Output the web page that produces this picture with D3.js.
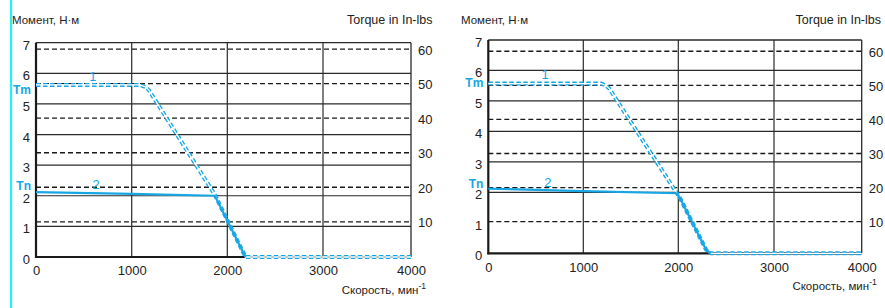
<!DOCTYPE html>
<html><head><meta charset="utf-8">
<script src="https://cdn.jsdelivr.net/npm/d3@7"></script>
<style>
body{margin:0;background:#fff}
text{font-family:"Liberation Sans",Arial,Helvetica,sans-serif}
</style>
</head><body>
<svg id="c" width="885" height="308"></svg>
<script>
// ---------- data ----------
const speedTicks  = [0, 1000, 2000, 3000, 4000];
const torqueTicks = [0, 1, 2, 3, 4, 5, 6, 7];
const inlbTicks   = [10, 20, 30, 40, 50, 60];

// chart A (left)
const speedA1  = [0, 1080, 1150, 1180, 1870, 2190, 4000];
const torqueA1 = [5.62, 5.62, 5.55, 5.45, 2.03, 0, 0];
const speedA2  = [0, 1000, 1870, 2190];
const torqueA2 = [2.12, 2.06, 2.0, 0];

// chart B (right)
const speedB1  = [0, 1190, 1240, 1270, 1985, 2020, 2290, 2340, 4000];
const torqueB1 = [5.57, 5.57, 5.5, 5.42, 1.97, 1.8, 0.12, 0, 0];
const speedB2  = [0, 1000, 1985, 2020, 2290, 2340];
const torqueB2 = [2.12, 2.04, 1.97, 1.8, 0.12, 0];

const yTitle = "Момент, Н·м";
const y2Title = "Torque in In-lbs";
const xTitle = "Скорость, мин";
const xTitleSup = "-1";
const curveLabels = ["1", "2"];
const levelLabels = ["Tm", "Tn"];

// ---------- layout ----------
const charts = [
  { xr: [36, 131.7, 227.3, 323, 411], yr: [257, 42.7],
    inlbNm: [1.15, 6.79], solid: [1, 2, 3, 4, 5, 6],
    s1: speedA1, t1: torqueA1, s2: speedA2, t2: torqueA2,
    lab1: [595, 5.9], lab2: [628, 2.4], tm: 5.5, tn: 2.35,
    titleX: 12, y2TitleX: 432.5 },
  { xr: [488.3, 583.3, 678.3, 774, 861.7], yr: [253.3, 40],
    inlbNm: [1.04, 6.63], solid: [2, 3, 4, 5, 6],
    s1: speedB1, t1: torqueB1, s2: speedB2, t2: torqueB2,
    lab1: [597, 5.9], lab2: [627, 2.34], tm: 5.62, tn: 2.31,
    titleX: 461, y2TitleX: 881 }
];

const BLUE = "#16a6e4";
const svg = d3.select("#c");

// cyan margin line
svg.append("line").attr("x1", 11).attr("x2", 11).attr("y1", 0).attr("y2", 308)
  .attr("stroke", "#1ef2ff").attr("stroke-width", 2.2);

charts.forEach(c => {
  const x = d3.scaleLinear().domain(speedTicks).range(c.xr);
  const y = d3.scaleLinear().domain([0, 7]).range(c.yr);
  const y2 = d3.scaleLinear().domain([10, 60]).range([y(c.inlbNm[0]), y(c.inlbNm[1])]);
  const x0 = x(0), x1 = x(4000), yb = y(0), yt = y(7);
  const g = svg.append("g");

  // solid horizontal grid
  g.selectAll(".hs").data(c.solid).enter().append("line")
    .attr("x1", x0).attr("x2", x1).attr("y1", d => y(d)).attr("y2", d => y(d))
    .attr("stroke", "#2a2a2a").attr("stroke-width", 1.2);
  // dashed in-lbs grid
  g.selectAll(".hd").data(inlbTicks).enter().append("line")
    .attr("x1", x0).attr("x2", x1).attr("y1", d => y2(d)).attr("y2", d => y2(d))
    .attr("stroke", "#1a1a1a").attr("stroke-width", 1.3).attr("stroke-dasharray", "5,3");
  // vertical grid
  g.selectAll(".vs").data(speedTicks.slice(1, 4)).enter().append("line")
    .attr("x1", d => x(d)).attr("x2", d => x(d)).attr("y1", yt).attr("y2", yb)
    .attr("stroke", "#2a2a2a").attr("stroke-width", 1.2);
  // frame
  g.append("line").attr("x1", x0).attr("x2", x1).attr("y1", yt).attr("y2", yt)
    .attr("stroke", "#2a2a2a").attr("stroke-width", 1.3);
  g.append("line").attr("x1", x1).attr("x2", x1).attr("y1", yt).attr("y2", yb)
    .attr("stroke", "#2a2a2a").attr("stroke-width", 1.3);
  g.append("line").attr("x1", x0).attr("x2", x0).attr("y1", yt).attr("y2", yb + 1)
    .attr("stroke", "#1a1a1a").attr("stroke-width", 2.2);
  g.append("line").attr("x1", x0 - 1).attr("x2", x1).attr("y1", yb).attr("y2", yb)
    .attr("stroke", "#1a1a1a").attr("stroke-width", 2.2);

  // axes (labels only)
  const ax = g.append("g").attr("transform", `translate(0,${yb})`)
    .call(d3.axisBottom(x).tickValues(speedTicks).tickSize(0).tickPadding(9).tickFormat(d3.format("d")));
  const ay = g.append("g").attr("transform", `translate(${x0},0)`)
    .call(d3.axisLeft(y).tickValues(torqueTicks).tickSize(0).tickPadding(6).tickFormat(d3.format("d")));
  const ay2 = g.append("g").attr("transform", `translate(${x1},0)`)
    .call(d3.axisRight(y2).tickValues(inlbTicks).tickSize(0).tickPadding(7).tickFormat(d3.format("d")));
  [ax, ay, ay2].forEach(a => {
    a.select(".domain").remove();
    a.selectAll("text").attr("font-size", 13).attr("fill", "#222")
      .attr("font-family", '"Liberation Sans",Arial,sans-serif');
  });
  ay.selectAll("text").attr("dy", "0.5em");
  ay2.selectAll("text").attr("dy", "0.38em");

  // curves
  const line = d3.line().x(d => x(d[0])).y(d => y(d[1]));
  const p1 = c.s1.map((s, i) => [s, c.t1[i]]);
  const p2 = c.s2.map((s, i) => [s, c.t2[i]]);
  g.append("path").attr("d", line(p1)).attr("fill", "none")
    .attr("stroke", BLUE).attr("stroke-width", 4).attr("stroke-dasharray", "4.5,2.5");
  g.append("path").attr("d", line(p1)).attr("fill", "none")
    .attr("stroke", "#fff").attr("stroke-width", 1.3);
  g.append("path").attr("d", line(p2)).attr("fill", "none")
    .attr("stroke", BLUE).attr("stroke-width", 2.2).attr("stroke-linejoin", "round");

  // curve labels
  g.append("text").attr("x", x(c.lab1[0])).attr("y", y(c.lab1[1]) + 5)
    .attr("text-anchor", "middle").attr("font-size", 13).attr("fill", BLUE).text(curveLabels[0]);
  g.append("text").attr("x", x(c.lab2[0])).attr("y", y(c.lab2[1]) + 5)
    .attr("text-anchor", "middle").attr("font-size", 13).attr("fill", BLUE).text(curveLabels[1]);

  // Tm / Tn
  g.append("text").attr("x", x0 - 5).attr("y", y(c.tm) + 5)
    .attr("text-anchor", "end").attr("font-size", 12).attr("font-weight", "bold")
    .attr("fill", BLUE).text(levelLabels[0]);
  g.append("text").attr("x", x0 - 5).attr("y", y(c.tn) + 5)
    .attr("text-anchor", "end").attr("font-size", 12).attr("font-weight", "bold")
    .attr("fill", BLUE).text(levelLabels[1]);

  // titles
  g.append("text").attr("x", c.titleX).attr("y", 24).attr("font-size", 11.5)
    .attr("fill", "#222").text(yTitle);
  g.append("text").attr("x", c.y2TitleX).attr("y", 24).attr("font-size", 12.5)
    .attr("text-anchor", "end").attr("fill", "#222").text(y2Title);
  const xt = g.append("text").attr("x", x1 + 15).attr("y", yb + 37).attr("font-size", 11.5)
    .attr("text-anchor", "end").attr("fill", "#222");
  xt.append("tspan").text(xTitle);
  xt.append("tspan").attr("dy", -5).attr("font-size", 8.5).text(xTitleSup);
});
</script>
</body></html>
